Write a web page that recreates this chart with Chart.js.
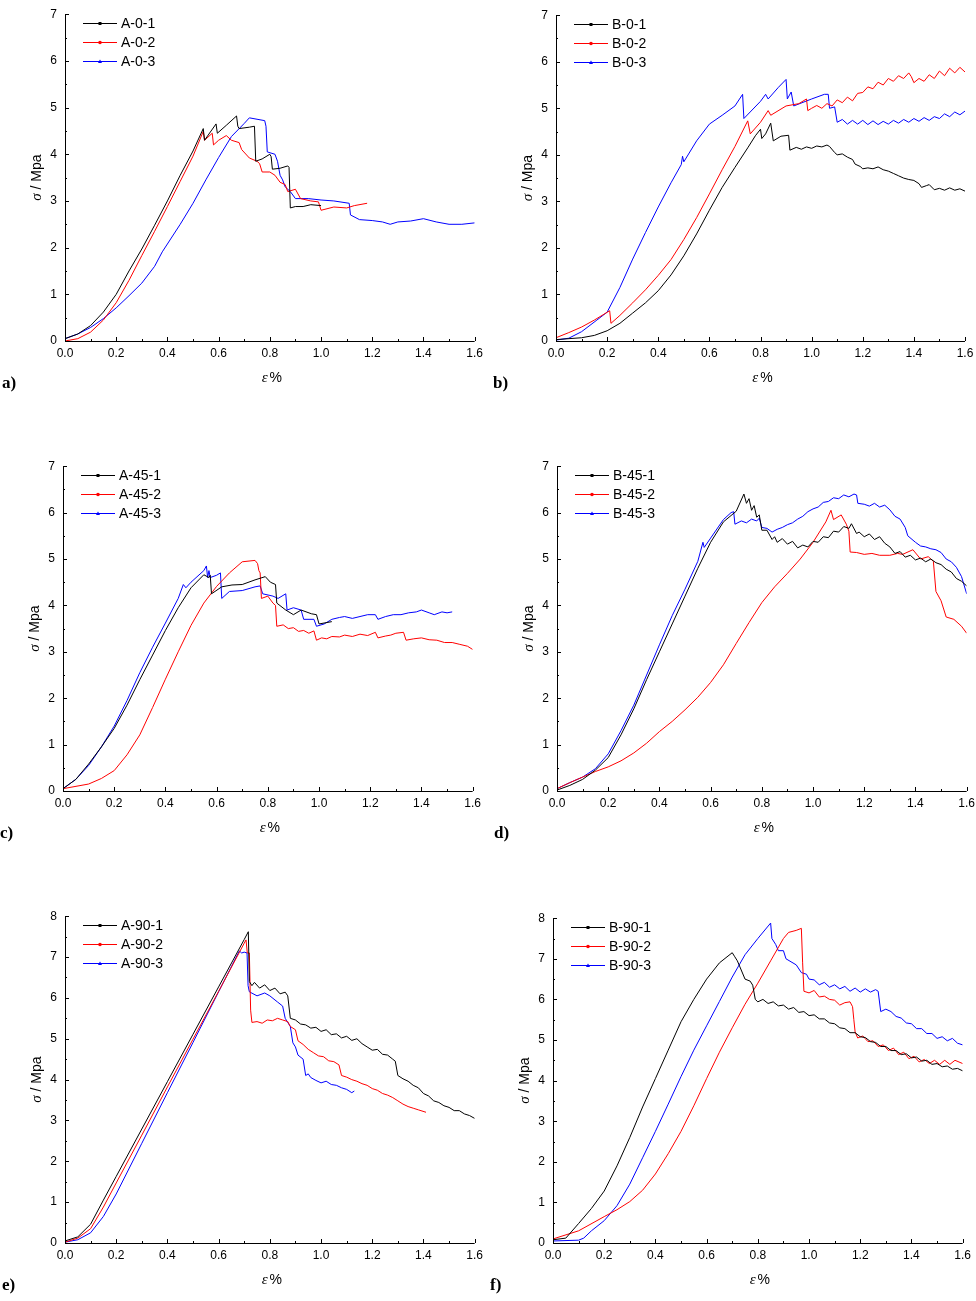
<!DOCTYPE html>
<html>
<head>
<meta charset="utf-8">
<script src="https://cdn.jsdelivr.net/npm/chart.js@4.4.1/dist/chart.umd.min.js"></script>
<style>
  html, body { margin: 0; padding: 0; background: #fff; overflow: hidden; }
  body { width: 976px; height: 1301px; position: relative; }
  .panel { position: absolute; }
</style>
</head>
<body>

<script>
// strain (%) / stress (MPa) pairs
const A_0_1 = [[0,0.05],[0.05,0.15],[0.1,0.33],[0.15,0.62],[0.2,1.0],[0.25,1.5],[0.3,1.97],[0.35,2.48],[0.4,3.0],[0.45,3.55],[0.5,4.07],[0.54,4.55],[0.545,4.3],[0.59,4.65],[0.595,4.45],[0.63,4.62],[0.67,4.82],[0.675,4.6],[0.68,4.55],[0.72,4.58],[0.74,4.6],[0.745,3.85],[0.77,3.9],[0.8,4.0],[0.805,3.95],[0.81,3.68],[0.84,3.7],[0.87,3.75],[0.875,3.72],[0.88,2.85],[0.9,2.88],[0.93,2.88],[0.96,2.92],[1.0,2.9]];
const A_0_2 = [[0,0],[0.05,0.05],[0.1,0.19],[0.15,0.45],[0.2,0.82],[0.25,1.3],[0.3,1.83],[0.35,2.35],[0.4,2.88],[0.45,3.42],[0.5,3.96],[0.54,4.49],[0.545,4.3],[0.575,4.45],[0.58,4.2],[0.6,4.3],[0.63,4.4],[0.65,4.3],[0.68,4.25],[0.69,4.1],[0.72,3.92],[0.75,3.85],[0.76,3.8],[0.77,3.62],[0.8,3.62],[0.82,3.55],[0.84,3.4],[0.86,3.35],[0.87,3.2],[0.9,3.25],[0.92,3.05],[0.96,3.0],[0.99,2.98],[1.0,2.8],[1.05,2.87],[1.1,2.85],[1.13,2.9],[1.18,2.95]];
const A_0_3 = [[0,0.05],[0.05,0.15],[0.1,0.29],[0.15,0.48],[0.2,0.71],[0.25,0.97],[0.3,1.24],[0.35,1.6],[0.38,1.91],[0.45,2.5],[0.5,2.95],[0.55,3.45],[0.6,3.93],[0.65,4.38],[0.7,4.66],[0.72,4.78],[0.75,4.75],[0.78,4.72],[0.785,4.6],[0.79,4.05],[0.82,4.0],[0.83,3.85],[0.84,3.55],[0.85,3.45],[0.86,3.3],[0.88,3.2],[0.9,3.05],[0.95,3.05],[1.0,3.02],[1.05,3.0],[1.11,2.95],[1.115,2.7],[1.15,2.6],[1.2,2.58],[1.24,2.55],[1.27,2.5],[1.3,2.55],[1.35,2.57],[1.4,2.62],[1.45,2.55],[1.5,2.5],[1.55,2.5],[1.6,2.53]];

const B_0_1 = [[0,0.03],[0.1,0.07],[0.15,0.12],[0.2,0.22],[0.25,0.38],[0.3,0.6],[0.35,0.82],[0.4,1.08],[0.45,1.42],[0.5,1.83],[0.55,2.3],[0.6,2.81],[0.65,3.3],[0.7,3.73],[0.75,4.15],[0.78,4.41],[0.8,4.55],[0.805,4.35],[0.82,4.45],[0.84,4.68],[0.85,4.3],[0.88,4.4],[0.91,4.42],[0.915,4.1],[0.94,4.16],[0.96,4.12],[0.98,4.17],[1.0,4.14],[1.02,4.19],[1.04,4.17],[1.06,4.21],[1.07,4.18],[1.09,4.05],[1.1,4.0],[1.12,4.02],[1.14,3.95],[1.16,3.9],[1.17,3.8],[1.19,3.75],[1.2,3.7],[1.22,3.72],[1.24,3.7],[1.26,3.74],[1.28,3.68],[1.3,3.65],[1.32,3.6],[1.34,3.55],[1.36,3.5],[1.38,3.47],[1.4,3.45],[1.42,3.38],[1.43,3.3],[1.45,3.34],[1.46,3.36],[1.48,3.25],[1.5,3.28],[1.52,3.24],[1.54,3.29],[1.56,3.24],[1.58,3.27],[1.6,3.22]];
const B_0_2 = [[0,0.07],[0.05,0.18],[0.1,0.3],[0.15,0.45],[0.21,0.65],[0.215,0.38],[0.25,0.55],[0.3,0.82],[0.35,1.1],[0.4,1.41],[0.45,1.75],[0.5,2.18],[0.55,2.65],[0.6,3.16],[0.65,3.68],[0.7,4.18],[0.75,4.73],[0.76,4.45],[0.8,4.7],[0.83,4.95],[0.84,4.85],[0.9,5.05],[0.95,5.1],[0.98,5.2],[0.985,4.95],[1.0,5.0],[1.02,5.06],[1.04,5.0],[1.06,5.1],[1.08,5.05],[1.1,5.18],[1.12,5.12],[1.14,5.24],[1.16,5.16],[1.18,5.32],[1.2,5.34],[1.22,5.46],[1.24,5.42],[1.26,5.56],[1.28,5.5],[1.3,5.64],[1.32,5.58],[1.34,5.7],[1.36,5.64],[1.38,5.76],[1.39,5.68],[1.4,5.55],[1.42,5.64],[1.44,5.58],[1.46,5.72],[1.48,5.64],[1.5,5.8],[1.52,5.7],[1.54,5.86],[1.56,5.76],[1.58,5.88],[1.6,5.78]];
const B_0_3 = [[0,0.02],[0.05,0.06],[0.1,0.2],[0.16,0.45],[0.2,0.62],[0.25,1.15],[0.3,1.76],[0.35,2.33],[0.4,2.88],[0.45,3.4],[0.49,3.79],[0.495,3.97],[0.5,3.85],[0.55,4.3],[0.6,4.66],[0.65,4.85],[0.7,5.05],[0.73,5.3],[0.735,4.78],[0.8,5.15],[0.82,5.3],[0.83,5.2],[0.87,5.45],[0.9,5.62],[0.905,5.2],[0.92,5.35],[0.93,5.05],[1.0,5.2],[1.05,5.3],[1.065,5.3],[1.07,5.0],[1.09,5.03],[1.1,4.7],[1.12,4.76],[1.14,4.66],[1.16,4.74],[1.18,4.66],[1.2,4.74],[1.22,4.65],[1.24,4.73],[1.26,4.65],[1.28,4.72],[1.3,4.66],[1.32,4.74],[1.34,4.68],[1.36,4.76],[1.38,4.7],[1.4,4.78],[1.42,4.72],[1.44,4.8],[1.46,4.74],[1.48,4.82],[1.5,4.78],[1.52,4.88],[1.54,4.82],[1.56,4.92],[1.58,4.86],[1.6,4.94]];

const A_45_1 = [[0,0.05],[0.05,0.25],[0.1,0.58],[0.15,0.95],[0.2,1.35],[0.25,1.85],[0.3,2.4],[0.35,2.93],[0.4,3.46],[0.45,3.95],[0.5,4.38],[0.55,4.66],[0.57,4.6],[0.575,4.65],[0.58,4.25],[0.62,4.4],[0.66,4.44],[0.7,4.45],[0.75,4.55],[0.79,4.62],[0.81,4.5],[0.83,4.45],[0.835,4.05],[0.87,3.9],[0.9,3.8],[0.93,3.9],[0.97,3.82],[0.99,3.8],[1.0,3.6],[1.05,3.65]];
const A_45_2 = [[0,0.05],[0.1,0.15],[0.15,0.27],[0.2,0.44],[0.25,0.78],[0.3,1.21],[0.35,1.8],[0.4,2.41],[0.45,3.0],[0.5,3.57],[0.55,4.05],[0.6,4.41],[0.65,4.7],[0.7,4.94],[0.75,4.97],[0.76,4.9],[0.765,4.75],[0.77,4.7],[0.775,4.15],[0.8,4.2],[0.82,4.05],[0.83,4.0],[0.835,3.55],[0.86,3.58],[0.88,3.5],[0.9,3.52],[0.92,3.44],[0.94,3.46],[0.96,3.4],[0.98,3.45],[0.99,3.25],[1.01,3.3],[1.03,3.28],[1.05,3.33],[1.08,3.32],[1.1,3.36],[1.13,3.33],[1.16,3.38],[1.19,3.35],[1.22,3.42],[1.23,3.3],[1.26,3.34],[1.28,3.36],[1.3,3.4],[1.33,3.42],[1.34,3.25],[1.37,3.28],[1.4,3.3],[1.43,3.26],[1.46,3.25],[1.49,3.2],[1.52,3.2],[1.55,3.16],[1.58,3.12],[1.6,3.05]];
const A_45_3 = [[0,0.05],[0.05,0.25],[0.1,0.55],[0.15,0.95],[0.2,1.4],[0.25,1.95],[0.3,2.55],[0.35,3.1],[0.4,3.62],[0.45,4.15],[0.47,4.45],[0.48,4.38],[0.5,4.5],[0.55,4.75],[0.56,4.85],[0.565,4.6],[0.57,4.75],[0.575,4.6],[0.6,4.65],[0.615,4.7],[0.62,4.15],[0.65,4.3],[0.7,4.32],[0.75,4.4],[0.77,4.42],[0.78,4.25],[0.82,4.2],[0.84,4.15],[0.87,4.25],[0.875,3.9],[0.9,3.95],[0.93,3.9],[0.94,3.7],[0.98,3.7],[0.99,3.55],[1.02,3.6],[1.05,3.7],[1.08,3.74],[1.1,3.76],[1.13,3.72],[1.16,3.76],[1.19,3.8],[1.22,3.8],[1.23,3.7],[1.26,3.76],[1.29,3.8],[1.32,3.8],[1.35,3.84],[1.38,3.86],[1.4,3.9],[1.43,3.84],[1.45,3.8],[1.48,3.86],[1.5,3.84],[1.52,3.86]];

const B_45_1 = [[0,0.02],[0.05,0.12],[0.1,0.25],[0.15,0.45],[0.2,0.72],[0.25,1.21],[0.3,1.77],[0.35,2.4],[0.4,3.0],[0.45,3.6],[0.5,4.2],[0.55,4.8],[0.6,5.36],[0.65,5.8],[0.7,6.03],[0.73,6.4],[0.74,6.2],[0.75,6.3],[0.76,6.05],[0.77,6.15],[0.78,5.9],[0.79,5.95],[0.8,5.62],[0.82,5.62],[0.84,5.42],[0.85,5.48],[0.86,5.36],[0.88,5.44],[0.9,5.32],[0.92,5.38],[0.94,5.24],[0.96,5.3],[0.98,5.26],[1.0,5.38],[1.02,5.36],[1.04,5.48],[1.06,5.46],[1.08,5.6],[1.1,5.58],[1.12,5.7],[1.14,5.66],[1.15,5.76],[1.17,5.55],[1.18,5.58],[1.2,5.48],[1.22,5.54],[1.24,5.42],[1.26,5.48],[1.28,5.34],[1.3,5.26],[1.32,5.12],[1.34,5.16],[1.36,5.04],[1.38,5.08],[1.4,4.98],[1.42,5.02],[1.44,4.94],[1.46,5.0],[1.48,4.92],[1.5,4.88],[1.52,4.78],[1.54,4.72],[1.56,4.58],[1.58,4.52],[1.6,4.42]];
const B_45_2 = [[0,0.05],[0.05,0.18],[0.1,0.3],[0.15,0.42],[0.2,0.52],[0.25,0.65],[0.3,0.82],[0.35,1.03],[0.4,1.28],[0.45,1.5],[0.5,1.75],[0.55,2.02],[0.6,2.34],[0.65,2.72],[0.7,3.18],[0.75,3.63],[0.8,4.06],[0.85,4.4],[0.9,4.69],[0.95,5.0],[1.0,5.36],[1.05,5.8],[1.07,6.05],[1.08,5.85],[1.11,5.95],[1.13,5.75],[1.14,5.6],[1.145,5.15],[1.17,5.14],[1.2,5.1],[1.23,5.12],[1.26,5.08],[1.3,5.08],[1.33,5.12],[1.35,5.1],[1.39,5.2],[1.42,5.0],[1.45,5.05],[1.47,4.95],[1.48,4.3],[1.5,4.1],[1.52,3.75],[1.55,3.7],[1.58,3.55],[1.6,3.4]];
const B_45_3 = [[0,0.05],[0.05,0.18],[0.1,0.3],[0.15,0.48],[0.2,0.8],[0.25,1.3],[0.3,1.85],[0.35,2.5],[0.4,3.15],[0.45,3.78],[0.5,4.35],[0.55,4.95],[0.57,5.36],[0.575,5.25],[0.6,5.45],[0.65,5.85],[0.68,6.0],[0.69,6.02],[0.695,5.75],[0.72,5.82],[0.74,5.78],[0.76,5.86],[0.78,5.82],[0.79,5.88],[0.8,5.68],[0.82,5.66],[0.84,5.58],[0.86,5.64],[0.88,5.68],[0.9,5.74],[0.92,5.78],[0.94,5.86],[0.96,5.92],[0.98,6.02],[1.0,6.08],[1.02,6.12],[1.04,6.22],[1.06,6.24],[1.08,6.32],[1.1,6.3],[1.12,6.38],[1.14,6.34],[1.16,6.4],[1.17,6.38],[1.175,6.2],[1.2,6.18],[1.22,6.14],[1.24,6.2],[1.26,6.12],[1.28,6.16],[1.3,6.06],[1.32,5.92],[1.34,5.86],[1.36,5.68],[1.37,5.5],[1.4,5.36],[1.42,5.28],[1.44,5.26],[1.46,5.22],[1.48,5.2],[1.5,5.14],[1.52,5.0],[1.54,4.94],[1.56,4.82],[1.58,4.62],[1.6,4.25]];

const A_90_1 = [[0,0.05],[0.05,0.15],[0.1,0.46],[0.15,1.05],[0.2,1.63],[0.3,2.79],[0.4,3.95],[0.5,5.11],[0.6,6.27],[0.7,7.43],[0.716,7.62],[0.72,6.4],[0.73,6.3],[0.74,6.38],[0.76,6.24],[0.78,6.32],[0.8,6.18],[0.82,6.24],[0.84,6.1],[0.86,6.14],[0.87,6.05],[0.88,5.5],[0.9,5.46],[0.92,5.36],[0.94,5.34],[0.96,5.26],[0.98,5.28],[1.0,5.18],[1.02,5.22],[1.04,5.1],[1.06,5.12],[1.08,5.02],[1.1,5.06],[1.12,4.96],[1.14,5.0],[1.16,4.88],[1.18,4.8],[1.2,4.72],[1.22,4.74],[1.24,4.62],[1.26,4.6],[1.28,4.5],[1.29,4.45],[1.3,4.1],[1.32,4.02],[1.34,3.96],[1.36,3.86],[1.38,3.8],[1.4,3.66],[1.42,3.6],[1.44,3.48],[1.46,3.44],[1.48,3.36],[1.5,3.32],[1.52,3.24],[1.54,3.24],[1.56,3.16],[1.58,3.12],[1.6,3.05]];
const A_90_2 = [[0,0.02],[0.05,0.12],[0.1,0.35],[0.15,0.88],[0.2,1.47],[0.3,2.64],[0.4,3.82],[0.5,4.99],[0.6,6.16],[0.7,7.34],[0.707,7.42],[0.712,7.1],[0.72,7.1],[0.725,5.7],[0.73,5.4],[0.75,5.42],[0.77,5.38],[0.79,5.46],[0.81,5.44],[0.83,5.5],[0.85,5.46],[0.87,5.42],[0.88,5.3],[0.9,5.22],[0.91,4.95],[0.93,4.86],[0.95,4.74],[0.97,4.66],[0.99,4.58],[1.01,4.56],[1.03,4.46],[1.05,4.44],[1.07,4.36],[1.08,4.1],[1.1,4.06],[1.12,4.0],[1.14,3.96],[1.16,3.9],[1.18,3.86],[1.2,3.78],[1.22,3.74],[1.24,3.66],[1.26,3.62],[1.28,3.56],[1.3,3.48],[1.32,3.4],[1.34,3.34],[1.36,3.3],[1.38,3.26],[1.41,3.2]];
const A_90_3 = [[0,0.02],[0.05,0.08],[0.1,0.25],[0.15,0.65],[0.2,1.2],[0.3,2.44],[0.4,3.68],[0.5,4.91],[0.6,6.15],[0.681,7.15],[0.69,7.1],[0.7,7.12],[0.711,7.1],[0.715,6.3],[0.72,6.15],[0.75,6.05],[0.78,6.12],[0.8,6.05],[0.83,5.9],[0.85,5.8],[0.86,5.5],[0.88,5.3],[0.89,4.9],[0.9,4.8],[0.91,4.6],[0.93,4.5],[0.94,4.1],[0.95,4.14],[0.96,4.05],[0.98,3.98],[1.0,3.92],[1.02,3.96],[1.04,3.88],[1.06,3.86],[1.08,3.8],[1.1,3.76],[1.12,3.68],[1.13,3.72]];

const B_90_1 = [[0,0.08],[0.05,0.12],[0.1,0.48],[0.15,0.85],[0.2,1.28],[0.25,1.9],[0.3,2.6],[0.35,3.35],[0.4,4.05],[0.45,4.75],[0.5,5.45],[0.55,6.0],[0.6,6.5],[0.65,6.9],[0.7,7.15],[0.71,7.05],[0.72,6.95],[0.73,6.8],[0.75,6.5],[0.77,6.45],[0.78,6.35],[0.79,6.0],[0.8,5.94],[0.82,6.0],[0.84,5.9],[0.86,5.94],[0.88,5.84],[0.9,5.86],[0.92,5.76],[0.94,5.8],[0.96,5.68],[0.98,5.7],[1.0,5.6],[1.02,5.62],[1.04,5.52],[1.06,5.52],[1.08,5.42],[1.1,5.4],[1.12,5.3],[1.14,5.28],[1.16,5.18],[1.18,5.18],[1.2,5.08],[1.22,5.06],[1.24,4.96],[1.26,4.94],[1.28,4.84],[1.3,4.84],[1.32,4.74],[1.34,4.74],[1.36,4.64],[1.38,4.66],[1.4,4.56],[1.42,4.58],[1.44,4.48],[1.46,4.5],[1.48,4.4],[1.5,4.42],[1.52,4.34],[1.54,4.36],[1.56,4.28],[1.58,4.3],[1.6,4.24]];
const B_90_2 = [[0,0.1],[0.1,0.3],[0.2,0.65],[0.25,0.82],[0.3,1.02],[0.35,1.3],[0.4,1.7],[0.45,2.2],[0.5,2.75],[0.55,3.38],[0.6,4.05],[0.65,4.7],[0.7,5.3],[0.75,5.88],[0.8,6.4],[0.85,6.95],[0.9,7.5],[0.92,7.65],[0.95,7.7],[0.97,7.75],[0.975,6.9],[0.98,6.2],[1.0,6.16],[1.02,6.22],[1.04,6.06],[1.06,6.08],[1.08,6.0],[1.1,5.98],[1.12,5.86],[1.14,5.92],[1.16,5.94],[1.17,5.82],[1.175,5.5],[1.18,5.2],[1.19,5.05],[1.21,5.1],[1.23,4.96],[1.25,4.98],[1.27,4.84],[1.29,4.88],[1.31,4.74],[1.33,4.8],[1.35,4.64],[1.37,4.7],[1.39,4.54],[1.41,4.6],[1.43,4.46],[1.45,4.52],[1.47,4.42],[1.49,4.5],[1.51,4.4],[1.53,4.5],[1.55,4.4],[1.57,4.5],[1.6,4.42]];
const B_90_3 = [[0,0.05],[0.1,0.07],[0.12,0.12],[0.15,0.3],[0.2,0.55],[0.25,0.92],[0.3,1.45],[0.35,2.1],[0.4,2.75],[0.45,3.42],[0.5,4.1],[0.55,4.75],[0.6,5.35],[0.65,5.95],[0.7,6.55],[0.75,7.1],[0.8,7.5],[0.85,7.88],[0.855,7.5],[0.87,7.35],[0.88,7.2],[0.9,7.2],[0.91,7.0],[0.95,6.85],[0.97,6.66],[0.99,6.62],[1.0,6.5],[1.02,6.48],[1.04,6.36],[1.06,6.42],[1.08,6.3],[1.1,6.36],[1.12,6.26],[1.14,6.32],[1.16,6.2],[1.18,6.28],[1.2,6.18],[1.22,6.26],[1.24,6.18],[1.26,6.24],[1.27,6.2],[1.28,5.7],[1.3,5.76],[1.32,5.7],[1.34,5.58],[1.36,5.54],[1.38,5.42],[1.4,5.4],[1.42,5.28],[1.44,5.28],[1.46,5.16],[1.48,5.16],[1.5,5.04],[1.52,5.08],[1.54,4.98],[1.56,5.04],[1.58,4.92],[1.6,4.88]];

const seriesColors = ['#000000', '#ff0000', '#0000ff'];
const markerStyles = ['rect', 'circle', 'triangle'];
const strainTicks = { min: 0, max: 1.6, step: 0.2 };

// panel: tag, plot box in page px (left, top, right, bottom), y max, series
const panels = [
  { tag: 'a)', box: [65, 7, 475, 341], yMax: 7, labels: ['A-0-1', 'A-0-2', 'A-0-3'], data: [A_0_1, A_0_2, A_0_3] },
  { tag: 'b)', box: [556, 8, 965, 341], yMax: 7, labels: ['B-0-1', 'B-0-2', 'B-0-3'], data: [B_0_1, B_0_2, B_0_3] },
  { tag: 'c)', box: [63, 459, 475, 791], yMax: 7, labels: ['A-45-1', 'A-45-2', 'A-45-3'], data: [A_45_1, A_45_2, A_45_3] },
  { tag: 'd)', box: [557, 459, 967, 791], yMax: 7, labels: ['B-45-1', 'B-45-2', 'B-45-3'], data: [B_45_1, B_45_2, B_45_3] },
  { tag: 'e)', box: [65, 909, 476, 1243], yMax: 8, labels: ['A-90-1', 'A-90-2', 'A-90-3'], data: [A_90_1, A_90_2, A_90_3] },
  { tag: 'f)', box: [553, 911, 965, 1243], yMax: 8, labels: ['B-90-1', 'B-90-2', 'B-90-3'], data: [B_90_1, B_90_2, B_90_3] }
];

const CW = 488, CH = 410, OFF_L = 65, OFF_T = 8, YW = 40, XH = 22;

// axes with inward ticks, legend, axis titles, panel tag
const decor = {
  id: 'decor',
  afterDraw(chart, args, opts) {
    const { ctx, chartArea: ca, scales } = chart;
    const sx = scales.x, sy = scales.y;
    ctx.save();
    ctx.strokeStyle = '#000';
    ctx.lineWidth = 1;
    ctx.beginPath();
    ctx.moveTo(ca.left + 0.5, ca.top);
    ctx.lineTo(ca.left + 0.5, ca.bottom + 0.5);
    ctx.lineTo(ca.right, ca.bottom + 0.5);
    ctx.stroke();

    const tickMarks = (scale, horiz) => {
      const vals = scale.ticks.map(t => t.value);
      const minors = [];
      for (let i = 0; i < vals.length - 1; i++) minors.push((vals[i] + vals[i + 1]) / 2);
      ctx.beginPath();
      vals.forEach(v => {
        const p = Math.round(scale.getPixelForValue(v)) + 0.5;
        if (horiz) { ctx.moveTo(p, ca.bottom); ctx.lineTo(p, ca.bottom - 4); }
        else { ctx.moveTo(ca.left, p); ctx.lineTo(ca.left + 4, p); }
      });
      minors.forEach(v => {
        const p = Math.round(scale.getPixelForValue(v)) + 0.5;
        if (horiz) { ctx.moveTo(p, ca.bottom); ctx.lineTo(p, ca.bottom - 2); }
        else { ctx.moveTo(ca.left, p); ctx.lineTo(ca.left + 2, p); }
      });
      ctx.stroke();
    };
    tickMarks(sx, true);
    tickMarks(sy, false);

    // legend
    ctx.font = '14px "Liberation Sans", Arial, sans-serif';
    ctx.textBaseline = 'middle';
    chart.data.datasets.forEach((ds, i) => {
      const yy = Math.round(ca.top + 9 + i * 19) + 0.5;
      const x0 = ca.left + 18, x1 = ca.left + 52, xm = (x0 + x1) / 2;
      ctx.strokeStyle = ds.borderColor;
      ctx.lineWidth = 1;
      ctx.beginPath(); ctx.moveTo(x0, yy); ctx.lineTo(x1, yy); ctx.stroke();
      ctx.fillStyle = ds.borderColor;
      ctx.beginPath();
      if (ds.legendMarker === 'rect') ctx.rect(xm - 1.5, yy - 1.5, 3, 3);
      else if (ds.legendMarker === 'circle') ctx.arc(xm, yy, 1.8, 0, Math.PI * 2);
      else { ctx.moveTo(xm, yy - 2); ctx.lineTo(xm + 2, yy + 1.5); ctx.lineTo(xm - 2, yy + 1.5); ctx.closePath(); }
      ctx.fill();
      ctx.fillStyle = '#000';
      ctx.fillText(ds.label, ca.left + 56, yy + 0.5);
    });

    // y title: italic sigma + " / Mpa"
    const serifIt = 'italic 15px "Liberation Serif", "Times New Roman", serif';
    const sans = '14px "Liberation Sans", Arial, sans-serif';
    ctx.fillStyle = '#000';
    ctx.save();
    ctx.translate(ca.left - 28, (ca.top + ca.bottom) / 2);
    ctx.rotate(-Math.PI / 2);
    ctx.font = serifIt; const w1 = ctx.measureText('σ').width;
    ctx.font = sans; const w2 = ctx.measureText(' / Mpa').width;
    let tx = -(w1 + w2) / 2;
    ctx.textAlign = 'left';
    ctx.font = serifIt; ctx.fillText('σ', tx, 0);
    ctx.font = sans; ctx.fillText(' / Mpa', tx + w1, 0);
    ctx.restore();

    // x title: italic epsilon + "%"
    ctx.font = serifIt; const e1 = ctx.measureText('ε').width;
    ctx.font = sans; const e2 = ctx.measureText('%').width;
    let ex = (ca.left + ca.right) / 2 - (e1 + e2) / 2 + 1;
    const ey = ca.bottom + 37;
    ctx.textAlign = 'left';
    ctx.font = serifIt; ctx.fillText('ε', ex, ey);
    ctx.font = sans; ctx.fillText('%', ex + e1 + 2, ey);

    // panel tag
    ctx.font = 'bold 17px "Liberation Serif", "Times New Roman", serif';
    ctx.fillText(opts.tag, ca.left - 63, ca.bottom + 43);
    ctx.restore();
  }
};

panels.forEach(p => {
  const [L, T, R, B] = p.box;
  const W = R - L, H = B - T;
  const canvas = document.createElement('canvas');
  canvas.className = 'panel';
  canvas.width = CW; canvas.height = CH;
  canvas.style.width = CW + 'px'; canvas.style.height = CH + 'px';
  canvas.style.left = (L - OFF_L) + 'px';
  canvas.style.top = (T - OFF_T) + 'px';
  document.body.appendChild(canvas);

  const tickFont = { family: '"Liberation Sans", Arial, sans-serif', size: 12 };

  new Chart(canvas.getContext('2d'), {
    type: 'line',
    data: {
      datasets: p.data.map((d, i) => ({
        label: p.labels[i],
        data: d,
        borderColor: seriesColors[i],
        backgroundColor: seriesColors[i],
        legendMarker: markerStyles[i],
        borderWidth: 1,
        pointRadius: 0,
        tension: 0,
        fill: false
      }))
    },
    options: {
      responsive: false,
      animation: false,
      devicePixelRatio: 1,
      layout: { padding: { left: OFF_L - YW, top: OFF_T, right: CW - OFF_L - W, bottom: CH - OFF_T - H - XH } },
      plugins: { legend: { display: false }, tooltip: { enabled: false }, decor: { tag: p.tag } },
      scales: {
        x: {
          type: 'linear', min: strainTicks.min, max: strainTicks.max,
          grid: { display: false, drawTicks: false }, border: { display: false },
          ticks: { stepSize: strainTicks.step, autoSkip: false, maxRotation: 0, padding: 5, color: '#000', font: tickFont,
                   callback: v => v.toFixed(1) },
          afterFit: s => { s.height = XH; }
        },
        y: {
          type: 'linear', min: 0, max: p.yMax,
          grid: { display: false, drawTicks: false }, border: { display: false },
          ticks: { stepSize: 1, padding: 8, color: '#000', font: tickFont },
          afterFit: s => { s.width = YW; }
        }
      }
    },
    plugins: [decor]
  });
});
</script>
</body>
</html>
